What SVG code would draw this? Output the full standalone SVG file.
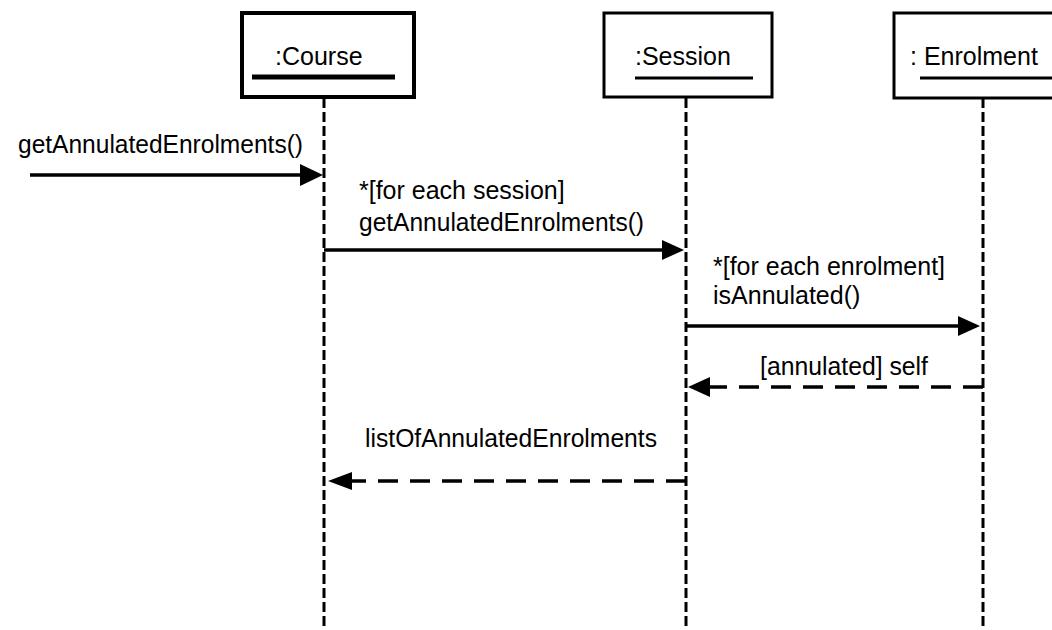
<svg xmlns="http://www.w3.org/2000/svg" width="1052" height="630" viewBox="0 0 1052 630">
<style>
text{font-family:"Liberation Sans",Arial,sans-serif;font-size:25px;fill:#000}
.box{fill:#fff;stroke:#000}
.life{stroke:#000;stroke-width:3;stroke-dasharray:10 4;fill:none}
.msg{stroke:#000;stroke-width:3.5;fill:none}
.ret{stroke:#000;stroke-width:3.5;stroke-dasharray:20 12;fill:none}
.ul{stroke:#000}
.head{fill:#000}
</style>
<rect width="1052" height="630" fill="#fff"/>
<g id="lifelines">
<line class="life" x1="324" y1="98" x2="324" y2="630"/>
<line class="life" x1="686" y1="98" x2="686" y2="630"/>
<line class="life" x1="983" y1="98" x2="983" y2="630"/>
</g>
<g id="course">
<rect class="box" x="242" y="13" width="172" height="84" stroke-width="4"/>
<text x="275" y="65">:Course</text>
<line class="ul" x1="252" y1="77" x2="395" y2="77" stroke-width="5"/>
</g>
<g id="session">
<rect class="box" x="604" y="13" width="168" height="84" stroke-width="3"/>
<text x="635" y="65">:Session</text>
<line class="ul" x1="635" y1="78" x2="753" y2="78" stroke-width="3"/>
</g>
<g id="enrolment">
<rect class="box" x="894" y="13" width="170" height="85" stroke-width="3"/>
<text x="910" y="65">: Enrolment</text>
<line class="ul" x1="920" y1="78" x2="1052" y2="78" stroke-width="3"/>
</g>
<g id="connectors">
<line class="msg" x1="30" y1="175" x2="302" y2="175" stroke-width="4.5"/>
<polygon class="head" points="300,164 323,175 300,186"/>
<line class="msg" x1="324" y1="250" x2="664" y2="250"/>
<polygon class="head" points="662,240 684,250 662,260"/>
<line class="msg" x1="686" y1="326" x2="960" y2="326"/>
<polygon class="head" points="958,316 980,326 958,336"/>
<line class="ret" x1="983" y1="387" x2="705" y2="387"/>
<polygon class="head" points="710,377 688,387 710,397"/>
<line class="ret" x1="686" y1="481" x2="345" y2="481"/>
<polygon class="head" points="352,472 328,481 352,490"/>
</g>
<g id="labels">
<text x="18" y="153" textLength="285" lengthAdjust="spacingAndGlyphs">getAnnulatedEnrolments()</text>
<text x="359" y="199">*[for each session]</text>
<text x="359" y="231" textLength="285" lengthAdjust="spacingAndGlyphs">getAnnulatedEnrolments()</text>
<text x="713" y="275">*[for each enrolment]</text>
<text x="713" y="304">isAnnulated()</text>
<text x="760" y="375" textLength="168" lengthAdjust="spacingAndGlyphs">[annulated] self</text>
<text x="365" y="447" textLength="292" lengthAdjust="spacingAndGlyphs">listOfAnnulatedEnrolments</text>
</g>
</svg>
